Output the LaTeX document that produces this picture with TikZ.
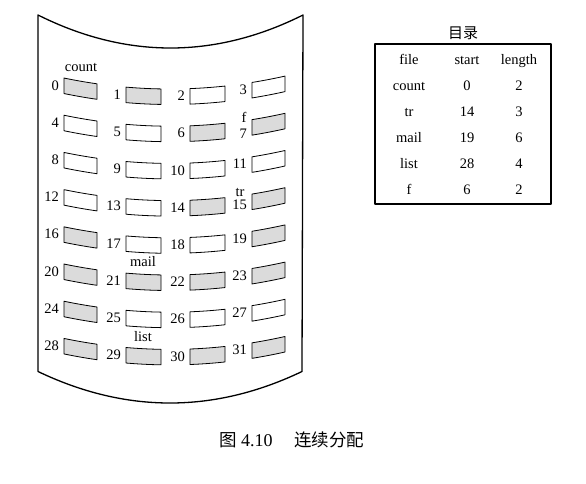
\documentclass[tikz,border=0pt]{standalone}
\usepackage{fontspec}
\setmainfont{Liberation Serif}
\newfontfamily\cjk{Noto Sans CJK SC}
\newcommand\blkgeom[1]{%
 \pgfmathtruncatemacro\bkR{int(#1/4)}%
 \pgfmathtruncatemacro\bkC{mod(#1,4)}%
 \pgfmathsetmacro\bkXa{{64,126,190,252}[\bkC]}%
 \pgfmathsetmacro\bkXb{{97,161,225,285}[\bkC]}%
 \pgfmathsetmacro\bkUa{(\bkXa-170)/132}%
 \pgfmathsetmacro\bkUb{(\bkXb-170)/132}%
 \pgfmathsetmacro\bkYa{72+17*(1-\bkUa*\bkUa)+37.2*\bkR}%
 \pgfmathsetmacro\bkYb{72+17*(1-\bkUb*\bkUb)+37.2*\bkR}%
 \pgfmathsetmacro\bkSa{-34*\bkUa/132}%
 \pgfmathsetmacro\bkSb{-34*\bkUb/132}%
 \pgfmathsetmacro\bkD{(\bkXb-\bkXa)/3}%
 \pgfmathsetmacro\bkCax{\bkXa+\bkD}%
 \pgfmathsetmacro\bkCay{\bkYa+\bkSa*\bkD}%
 \pgfmathsetmacro\bkCbx{\bkXb-\bkD}%
 \pgfmathsetmacro\bkCby{\bkYb-\bkSb*\bkD}%
 \pgfmathsetmacro\bkYah{\bkYa+15.5}%
 \pgfmathsetmacro\bkYbh{\bkYb+15.5}%
 \pgfmathsetmacro\bkCayh{\bkCay+15.5}%
 \pgfmathsetmacro\bkCbyh{\bkCby+15.5}%
}
\newcommand\blkpath{(\bkXa,\bkYa) .. controls (\bkCax,\bkCay) and (\bkCbx,\bkCby) .. (\bkXb,\bkYb) -- (\bkXb,\bkYbh) .. controls (\bkCbx,\bkCbyh) and (\bkCax,\bkCayh) .. (\bkXa,\bkYah) -- cycle}
\begin{document}
\begin{tikzpicture}[x=1pt,y=-1pt,line join=round]
\useasboundingbox (0,0) rectangle (586,483);
\tikzset{
 outline/.style={line width=1.3pt},
 blk/.style={draw,line width=0.8pt},
 used/.style={fill=black!14},
 txt/.style={font=\fontsize{14.5}{14.5}\selectfont,inner sep=0pt},
 num/.style={txt,anchor=east},
}
% disk surface
\coordinate (dtl) at (38,15);
\coordinate (dtr) at (303,15);
\coordinate (dbr) at (302,371.5);
\coordinate (dbl) at (38,371.5);
\draw[outline] (dtl) .. controls (126,59) and (215,59) .. (dtr) -- (dbr)
  .. controls (214,413.5) and (126,413.5) .. (dbl) -- cycle;
% shaded blocks
\foreach \n in {0,1,6,7,14,15,16,19,20,21,22,23,24,28,29,30,31}{
  \blkgeom{\n}
  \fill[used] \blkpath;
}
% all blocks and numbers
\foreach \n in {0,...,31}{
  \blkgeom{\n}
  \draw[blk] \blkpath;
  \pgfmathsetmacro\bkNx{\bkXa-5}
  \pgfmathsetmacro\bkNy{\bkYa+(\n==7 ? 14 : (\n==15 ? 11 : 7.3))}
  \node[num] (n\n) at (\bkNx,\bkNy) {\n};
}
% file labels
\node[txt] (lcount) at (81,67) {count};
\node[txt] (lf) at (244,117) {f};
\node[txt] (ltr) at (240,192) {tr};
\node[txt] (lmail) at (143,262) {mail};
\node[txt] (llist) at (143,337) {list};
% directory
\node[txt,font=\cjk\fontsize{15}{15}\selectfont] (dirtitle) at (463,33) {目录};
\node[draw,line width=1.2pt,minimum width=176pt,minimum height=160pt,inner sep=0pt] (dir) at (463,124) {};
\foreach \r/\y/\a/\b/\c in {0/62/file/start/length,1/88/count/0/2,2/114/tr/14/3,3/139.5/mail/19/6,4/166/list/28/4,5/192/f/6/2}{
  \node[txt] (ca\r) at (409,\y) {\strut\a};
  \node[txt] (cb\r) at (467,\y) {\strut\b};
  \node[txt] (cc\r) at (519,\y) {\strut\c};
}
% caption
\node[anchor=west,inner sep=0pt,font=\fontsize{18}{18}\selectfont] (cap) at (219,440)
  {{\cjk\fontsize{17.5}{17.5}\selectfont 图} 4.10\hspace{1.2em}{\cjk\fontsize{17.5}{17.5}\selectfont 连续分配}};
\end{tikzpicture}
\end{document}
